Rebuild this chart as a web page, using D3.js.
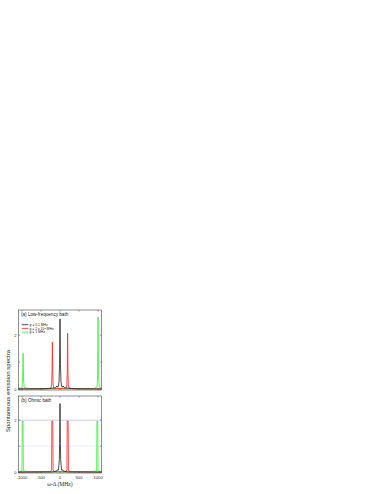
<!DOCTYPE html>
<html>
<head>
<meta charset="utf-8">
<script src="https://cdn.jsdelivr.net/npm/d3@7"></script>
<style>
  body { margin: 0; background: #fff; }
  svg { font-family: Arial, "Liberation Sans", sans-serif; }
  .curve { fill: none; stroke-width: 0.8; stroke-linejoin: round; }
</style>
</head>
<body>
<div id="chart"></div>
<script>
// tick values
const xTicks = [-1000, -500, 0, 500, 1000];
const xTickLabels = ['-1000', '-500', '0', '500', '1000'];
const yTicks = [0, 1, 2];
const yTickLabels = ['0', '', '2'];

const legendLabels = ['g = 0.1 MHz', 'g = 2 x 10', 'g = 1 MHz'];
const seriesColors = ['#222', '#ff2020', '#33ee33'];

// (a) low-frequency bath: [omega - delta, S]
const aBlack = [[-1090, 0.01], [-300, 0.02], [-120, 0.05], [-80, 0.12], [-60, 0.07], [-40, 0.12], [-25, 0.3],
  [-12, 0.9], [-5, 1.9], [0, 2.6], [5, 1.9], [12, 0.9], [25, 0.3], [40, 0.12], [60, 0.07], [80, 0.12],
  [120, 0.05], [300, 0.02], [1090, 0.01]];
const aRed = [[-1090, 0.005], [-400, 0.01], [-240, 0.04], [-220, 0.15], [-210, 0.6], [-204, 1.3], [-200, 1.74],
  [-196, 1.3], [-190, 0.6], [-180, 0.15], [-160, 0.04], [0, 0.02], [160, 0.04], [180, 0.15], [190, 0.6],
  [196, 1.5], [200, 2.07], [204, 1.5], [210, 0.6], [220, 0.15], [240, 0.04], [400, 0.01], [1090, 0.005]];
const aGreen = [[-1090, 0.02], [-1000, 0.05], [-985, 0.3], [-976, 0.9], [-970, 1.33], [-964, 0.9], [-955, 0.3],
  [-940, 0.06], [-800, 0.02], [0, 0.01], [900, 0.02], [975, 0.1], [988, 0.5], [995, 1.6], [1000, 2.67],
  [1005, 1.6], [1012, 0.5], [1030, 0.08], [1090, 0.04]];

// (b) ohmic bath
const bBlack = [[-1090, 0.005], [-200, 0.01], [-80, 0.05], [-60, 0.1], [-45, 0.08], [-30, 0.25], [-18, 0.5],
  [-10, 1.1], [-4, 2.0], [0, 2.64], [4, 2.0], [10, 1.1], [18, 0.5], [30, 0.25], [45, 0.08], [60, 0.1],
  [80, 0.05], [200, 0.01], [1090, 0.005]];
const bRed = [[-1090, 0.005], [-240, 0.02], [-222, 0.1], [-214, 1.97], [-190, 1.97], [-182, 0.1], [-160, 0.02],
  [160, 0.02], [182, 0.1], [190, 1.97], [214, 1.97], [222, 0.1], [240, 0.02], [1090, 0.005]];
const bGreen = [[-1090, 0.02], [-1000, 0.05], [-992, 1.97], [-970, 1.97], [-962, 0.05], [-800, 0.02], [0, 0.01],
  [800, 0.02], [962, 0.05], [970, 1.97], [992, 1.97], [1000, 0.05], [1090, 0.02]];
const bRefLines = [2, 1];

const W = 382, H = 494;
const left = 18.5, right = 101.5;

const svg = d3.select('#chart').append('svg')
  .attr('width', W).attr('height', H);

const x = d3.scaleLinear().domain([-1090, 1090]).range([left, right]);

const panels = [
  { top: 310, bottom: 390, title: '(a) Low-frequency bath', series: [aBlack, aRed, aGreen], showX: false },
  { top: 396, bottom: 473, title: '(b) Ohmic bath', series: [bBlack, bRed, bGreen], showX: true }
];

panels.forEach((p, pi) => {
  const y = d3.scaleLinear().domain([-0.03, 2.93]).range([p.bottom, p.top]);
  const g = svg.append('g');

  if (pi === 1) {
    // reference lines in the ohmic panel
    bRefLines.forEach((v, i) => {
      g.append('line')
        .attr('x1', left).attr('x2', right)
        .attr('y1', y(v)).attr('y2', y(v))
        .attr('stroke', i === 0 ? '#8f8fff' : '#c4c4ff')
        .attr('stroke-width', 0.6)
        .attr('stroke-dasharray', i === 0 ? '1.2,0.4' : '0.8,0.8');
    });
  }

  const line = d3.line().x(d => x(d[0])).y(d => y(d[1]));
  // draw green first, then red, then black on top
  [2, 1, 0].forEach(k => {
    g.append('path')
      .datum(p.series[k])
      .attr('class', 'curve')
      .attr('d', line)
      .attr('stroke', seriesColors[k]);
  });

  // frame
  g.append('rect')
    .attr('x', left).attr('y', p.top)
    .attr('width', right - left).attr('height', p.bottom - p.top)
    .attr('fill', 'none').attr('stroke', '#444').attr('stroke-width', 0.6);

  // x ticks inward, top and bottom
  xTicks.forEach(t => {
    [[p.bottom, -1.5], [p.top, 1.5]].forEach(([yy, len]) => {
      g.append('line')
        .attr('x1', x(t)).attr('x2', x(t))
        .attr('y1', yy).attr('y2', yy + len)
        .attr('stroke', '#444').attr('stroke-width', 0.5);
    });
  });
  // y ticks inward, left and right
  yTicks.forEach((t, i) => {
    [[left, 1.5], [right, -1.5]].forEach(([xx, len]) => {
      g.append('line')
        .attr('x1', xx).attr('x2', xx + len)
        .attr('y1', y(t)).attr('y2', y(t))
        .attr('stroke', '#444').attr('stroke-width', 0.5);
    });
    if (yTickLabels[i]) {
      g.append('text')
        .attr('x', left - 2).attr('y', y(t) + 1.4)
        .attr('text-anchor', 'end')
        .attr('font-size', 4)
        .attr('fill', '#333')
        .text(yTickLabels[i]);
    }
  });

  if (p.showX) {
    xTicks.forEach((t, i) => {
      g.append('text')
        .attr('x', x(t)).attr('y', p.bottom + 5.5)
        .attr('text-anchor', 'middle')
        .attr('font-size', 4.2)
        .attr('fill', '#333')
        .text(xTickLabels[i]);
    });
  }

  g.append('text')
    .attr('x', left + 2.5).attr('y', p.top + 5.5)
    .attr('font-size', 4.6)
    .attr('fill', '#222')
    .text(p.title);
});

// legend in panel (a)
const legY = [324.7, 328.4, 332.1];
legendLabels.forEach((lab, i) => {
  svg.append('line')
    .attr('x1', 21.7).attr('x2', 28.4)
    .attr('y1', legY[i]).attr('y2', legY[i])
    .attr('stroke', seriesColors[i]).attr('stroke-width', 0.8);
  const t = svg.append('text')
    .attr('x', 29.4).attr('y', legY[i] + 1.2)
    .attr('font-size', 3.4)
    .attr('fill', '#222')
    .text(lab);
  if (i === 1) {
    t.append('tspan').attr('dy', -1).attr('font-size', 2.3).text('2');
    t.append('tspan').attr('dy', 1).text(' MHz');
  }
});

// axis titles
svg.append('text')
  .attr('x', 60).attr('y', 485.5)
  .attr('text-anchor', 'middle')
  .attr('font-family', '"Liberation Serif", "DejaVu Serif", serif')
  .attr('font-size', 5.6)
  .attr('fill', '#222')
  .text('\u03c9-\u0394  (MHz)');

svg.append('text')
  .attr('transform', 'translate(9.5,391) rotate(-90)')
  .attr('text-anchor', 'middle')
  .attr('font-size', 6)
  .attr('fill', '#222')
  .text('Spontaneous emission spectra');
</script>
</body>
</html>
